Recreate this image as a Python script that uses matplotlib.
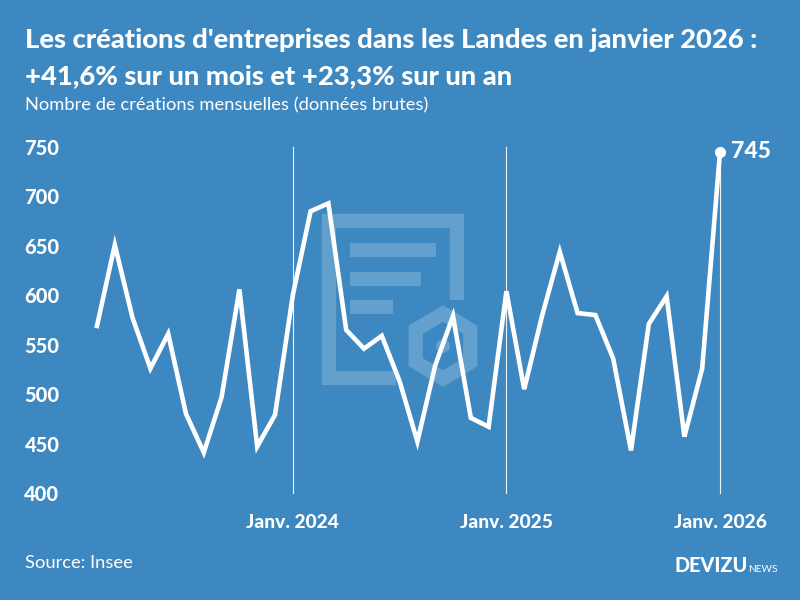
import matplotlib
matplotlib.use('Agg')
import matplotlib.pyplot as plt
from matplotlib.patches import Circle, Polygon, Rectangle
import numpy as np

plt.rcParams['font.family'] = ['Lato', 'DejaVu Sans']

BG = '#3d88c0'
MARK = '#63a0cd'

# Feb 2023 to Jan 2026
values = [569, 651, 577, 526, 561, 480, 441, 497, 606, 447, 479,
          600, 685, 693, 565, 546, 559, 513, 452, 529, 579, 476, 467,
          604, 505, 579, 644, 582, 580, 536, 443, 571, 599, 457, 526,
          745]
months = list(range(len(values)))
year_idx = [11, 23, 35]
year_labels = ['Janv. 2024', 'Janv. 2025', 'Janv. 2026']
y_ticks = [400, 450, 500, 550, 600, 650, 700, 750]

fig = plt.figure(figsize=(8, 6), dpi=100, facecolor=BG)

# background layer in pixels for the watermark
bg = fig.add_axes([0, 0, 1, 1])
bg.set_xlim(0, 800)
bg.set_ylim(600, 0)
bg.axis('off')
bg.plot([457, 457, 328.5, 328.5, 396], [300, 221, 221, 378, 378], color=MARK, lw=10.3,
        solid_joinstyle='miter', solid_capstyle='butt')
bg.add_patch(Rectangle((350, 243), 86, 14, color=MARK, lw=0))
bg.add_patch(Rectangle((350, 271.5), 71, 14, color=MARK, lw=0))
bg.add_patch(Rectangle((350, 300), 43, 14, color=MARK, lw=0))
ang = np.radians([90, 150, 210, 270, 330, 30])
hexa = np.column_stack([443 + 31.5 * np.cos(ang), 346 - 32.5 * np.sin(ang)])
bg.add_patch(Polygon(hexa, closed=True, fill=False, ec=MARK, lw=10.3, joinstyle='miter'))
bg.add_patch(Circle((443, 346), 7, color=MARK, lw=0))

# main chart, 97-720 px wide, 147-493 px high
ax = fig.add_axes([97 / 800, (600 - 493) / 600, (720 - 97) / 800, 346 / 600])
ax.patch.set_alpha(0)
ax.set_xlim(0, 35)
ax.set_ylim(400, 750)
for s in ax.spines.values():
    s.set_visible(False)

for i in year_idx:
    ax.axvline(i, color='white', lw=0.8, alpha=0.9, zorder=1, clip_on=False)
ax.plot(months, values, color='white', lw=3.3, solid_joinstyle='miter', zorder=3, clip_on=False)
ax.plot(months[-1], values[-1], 'o', color='white', ms=7, zorder=4, clip_on=False)
ax.annotate(str(values[-1]), (months[-1], values[-1]), xytext=(8, 0), textcoords='offset points',
            color='white', fontsize=16.5, fontweight='black', va='center')

ax.set_yticks(y_ticks)
ax.set_xticks(year_idx)
ax.set_xticklabels(year_labels)
ax.tick_params(axis='both', length=0, labelcolor='white')
ax.tick_params(axis='y', pad=27, labelsize=14.5)
ax.tick_params(axis='x', pad=15, labelsize=13.8)
for lab in ax.get_yticklabels() + ax.get_xticklabels():
    lab.set_fontweight('black')

fig.text(25 / 800, 1 - 40 / 600, "Les créations d'entreprises dans les Landes en janvier 2026 :",
         color='white', fontsize=19.7, fontweight='black', va='center')
fig.text(25 / 800, 1 - 76 / 600, '+41,6% sur un mois et +23,3% sur un an',
         color='white', fontsize=19.7, fontweight='black', va='center')
fig.text(25 / 800, 1 - 105 / 600, 'Nombre de créations mensuelles (données brutes)',
         color='white', fontsize=13.2, va='center')
fig.text(25 / 800, 1 - 563 / 600, 'Source: Insee', color='white', fontsize=13.2, va='center')
fig.text(674 / 800, 1 - 566 / 600, 'DEVIZU', color='white', fontsize=14.3, fontweight='black', va='center')
fig.text(748 / 800, 1 - 570 / 600, 'NEWS', color='white', fontsize=7.3, va='center')

fig.savefig('out.png', dpi=100, facecolor=BG)
